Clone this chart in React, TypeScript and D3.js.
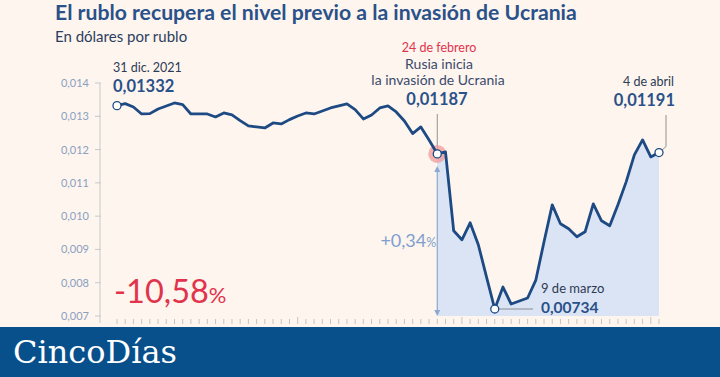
import React from "react";
import * as d3 from "d3";

const dates: string[] = [
  "2021-12-31",
  "2022-01-03","2022-01-04","2022-01-05","2022-01-06","2022-01-07","2022-01-10","2022-01-11","2022-01-12","2022-01-13","2022-01-14",
  "2022-01-17","2022-01-18","2022-01-19","2022-01-20","2022-01-21","2022-01-24","2022-01-25","2022-01-26","2022-01-27","2022-01-28","2022-01-31",
  "2022-02-01","2022-02-02","2022-02-03","2022-02-04","2022-02-07","2022-02-08","2022-02-09","2022-02-10","2022-02-11","2022-02-14",
  "2022-02-15","2022-02-16","2022-02-17","2022-02-18","2022-02-21","2022-02-22","2022-02-23","2022-02-24","2022-02-25","2022-02-28",
  "2022-03-01","2022-03-02","2022-03-03","2022-03-04","2022-03-07","2022-03-08","2022-03-09","2022-03-10","2022-03-11","2022-03-14",
  "2022-03-15","2022-03-16","2022-03-17","2022-03-18","2022-03-21","2022-03-22","2022-03-23","2022-03-24","2022-03-25","2022-03-28",
  "2022-03-29","2022-03-30","2022-03-31","2022-04-01","2022-04-04",
];

const values: number[] = [
  0.01332,
  0.01338,0.01328,0.01307,0.01308,0.01322,0.01331,0.0134,0.01335,0.01307,0.01307,
  0.01307,0.01298,0.0131,0.01304,0.01287,0.01271,0.01268,0.01265,0.0128,0.01277,0.0129,
  0.01301,0.0131,0.01307,0.01316,0.01325,0.01331,0.01337,0.0132,0.01292,0.01304,
  0.01325,0.01331,0.01313,0.01286,0.01248,0.01268,0.01229,0.01187,0.01193,0.00956,
  0.00929,0.0098,0.00914,0.00817,0.00721,0.00787,0.00736,0.00745,0.00754,0.00808,
  0.00923,0.01034,0.00977,0.00962,0.00938,0.00953,0.01037,0.00986,0.00971,0.01034,
  0.01103,0.01184,0.01229,0.01178,0.01191,
];

const yTicks: number[] = [0.007, 0.008, 0.009, 0.01, 0.011, 0.012, 0.013, 0.014];
const monthStarts: string[] = ["2022-02-01", "2022-03-01", "2022-04-01"];

const TITLE = "El rublo recupera el nivel previo a la invasión de Ucrania";
const SUBTITLE = "En dólares por rublo";
const invasionDate = "2022-02-24";
const minDate = "2022-03-07";
const endDate = "2022-04-04";

const BLUE = "#1e4a84";
const TITLE_BLUE = "#2a5189";
const RED = "#e2334d";
const FONT = "Lato, 'Open Sans', sans-serif";

export default function App() {
  const W = 720, H = 377;
  const x = d3.scalePoint<string>().domain(dates).range([117, 659]);
  const y = d3.scaleLinear().domain([0.007, 0.014]).range([316, 83]);
  const pts = dates.map((d, i) => ({ d, v: values[i] }));
  const line = d3.line<{ d: string; v: number }>().x(p => x(p.d)!).y(p => y(p.v));
  const invIdx = dates.indexOf(invasionDate);
  const area = d3.area<{ d: string; v: number }>().x(p => x(p.d)!).y0(y(0.007)).y1(p => y(p.v));
  const fmt = (v: number) => d3.format(".3f")(v).replace(".", ",");

  const xInv = x(invasionDate)!, yInv = y(values[invIdx]);
  const minIdx = dates.indexOf(minDate);
  const xMin = x(minDate)!, yMin = y(values[minIdx]);
  const xEnd = x(endDate)!, yEnd = y(values[values.length - 1]);
  const xStart = x(dates[0])!, yStart = y(values[0]);

  return (
    <svg width={W} height={H} style={{ position: "absolute", left: 0, top: 0, fontFamily: FONT }}>
      <rect width={W} height={H} fill="#fdf5ee" />
      <text x={55} y={20} fontSize={21.2} fontWeight={700} fill={TITLE_BLUE}>{TITLE}</text>
      <text x={55} y={42} fontSize={15} fill="#2c3e5e">{SUBTITLE}</text>

      {/* area */}
      <path d={area(pts.slice(invIdx))!} fill="#dbe4f4" />

      {/* y axis */}
      <line x1={100} x2={100} y1={83} y2={323} stroke="#c9c9c9" strokeWidth={1} />
      {yTicks.map(t => (
        <g key={t}>
          <line x1={95} x2={101} y1={y(t)} y2={y(t)} stroke="#c9c9c9" />
          <text x={89} y={y(t) + 4} fontSize={11} textAnchor="end" fill="#8c9fbf">{fmt(t)}</text>
        </g>
      ))}
      {/* x ticks */}
      {dates.map(d => (
        <line key={d} x1={x(d)!} x2={x(d)!} y1={monthStarts.includes(d) ? 317 : 319} y2={324}
          stroke="#c4c4c4" strokeWidth={1} />
      ))}

      {/* arrow */}
      <line x1={xInv} x2={xInv} y1={yInv + 14} y2={y(0.007) - 4} stroke="#8ea7cf" strokeWidth={1.2} />
      <path d={`M${xInv - 3},${yInv + 18} L${xInv},${yInv + 12} L${xInv + 3},${yInv + 18} Z`} fill="#8ea7cf" />
      <path d={`M${xInv - 3},${y(0.007) - 6} L${xInv},${y(0.007)} L${xInv + 3},${y(0.007) - 6} Z`} fill="#8ea7cf" />
      <text x={xInv - 1} y={247} textAnchor="end" fill="#7f9fcf">
        <tspan fontSize={18}>+0,34</tspan><tspan fontSize={12.5}>%</tspan>
      </text>

      {/* leader lines */}
      <line x1={xInv} x2={xInv} y1={114} y2={yInv} stroke="#777" strokeWidth={0.8} />
      <line x1={xMin} x2={533} y1={yMin} y2={yMin} stroke="#777" strokeWidth={0.8} />
      <path d={`M${xEnd + 7},115 L${xEnd + 7},${yEnd - 6} L${xEnd},${yEnd}`} fill="none" stroke="#777" strokeWidth={0.8} />

      {/* highlight */}
      <circle cx={xInv} cy={yInv} r={9} fill="#f09a9a" opacity={0.75} />

      {/* line */}
      <path d={line(pts)!} fill="none" stroke={BLUE} strokeWidth={2.8} strokeLinejoin="round" />

      {[[xStart, yStart], [xInv, yInv], [xMin, yMin], [xEnd, yEnd]].map(([cx, cy], i) => (
        <circle key={i} cx={cx} cy={cy} r={4} fill="#fff" stroke={BLUE} strokeWidth={1.3} />
      ))}

      {/* annotations */}
      <text x={113} y={72} fontSize={12.5} fill="#2e3b55">31 dic. 2021</text>
      <text x={113} y={92} fontSize={16.5} fontWeight={700} fill={TITLE_BLUE}>0,01332</text>

      <text x={439} y={52} fontSize={12.5} textAnchor="middle" fill={RED}>24 de febrero</text>
      <text x={439} y={69} fontSize={14} textAnchor="middle" fill="#3a4a6c">Rusia inicia</text>
      <text x={438} y={85} fontSize={14} textAnchor="middle" fill="#3a4a6c">la invasión de Ucrania</text>
      <text x={437} y={105} fontSize={16.5} fontWeight={700} textAnchor="middle" fill={TITLE_BLUE}>0,01187</text>

      <text x={674} y={86} fontSize={12.5} textAnchor="end" fill="#2e3b55">4 de abril</text>
      <text x={675} y={106} fontSize={16.5} fontWeight={700} textAnchor="end" fill={TITLE_BLUE}>0,01191</text>

      <text x={541} y={293} fontSize={13} fill="#2e3b55">9 de marzo</text>
      <text x={541} y={313} fontSize={15.5} fontWeight={700} fill={TITLE_BLUE}>0,00734</text>

      <text x={114} y={303} fill={RED}>
        <tspan fontSize={32.5}>-10,58</tspan><tspan fontSize={22}>%</tspan>
      </text>

      {/* footer */}
      <rect x={0} y={327} width={W} height={50} fill="#07508b" />
      <text x={13} y={363} fontSize={32} fill="#ffffff" fontFamily="'DejaVu Serif', 'Liberation Serif', serif">CincoDías</text>
    </svg>
  );
}
